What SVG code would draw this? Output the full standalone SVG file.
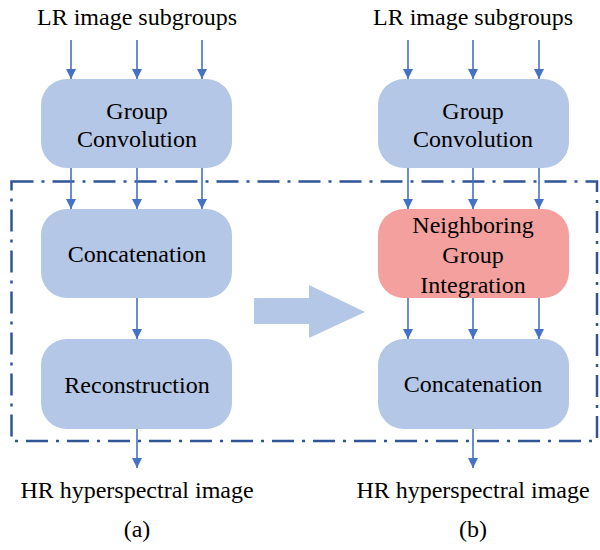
<svg xmlns="http://www.w3.org/2000/svg" width="600" height="550" viewBox="0 0 600 550">
<style>
.box{fill:#B4C7E7}
.red{fill:#F4A09F}
text{font-family:'Liberation Serif','Times New Roman',serif;font-size:24px;fill:#000;text-anchor:middle}
.c{stroke:#4472C4;stroke-width:1.6;fill:none;marker-end:url(#ah)}
</style>
<defs>
<marker id="ah" viewBox="0 0 10 10" refX="10" refY="5" markerWidth="10" markerHeight="10" markerUnits="userSpaceOnUse" orient="auto">
<path d="M0,0 L10,5 L0,10 z" fill="#4472C4"/>
</marker>
</defs>
<rect x="0" y="0" width="600" height="550" fill="#fff"/>
<rect id="frame" x="11.5" y="181.5" width="585.5" height="259.5" fill="none" stroke="#2F5597" stroke-width="2.5" stroke-dasharray="22 8 3 8"/>
<g id="connectors">
<line class="c" x1="71" y1="40" x2="71" y2="79"/>
<line class="c" x1="137" y1="40" x2="137" y2="79"/>
<line class="c" x1="202" y1="40" x2="202" y2="79"/>
<line class="c" x1="71" y1="168" x2="71" y2="209"/>
<line class="c" x1="137" y1="168" x2="137" y2="209"/>
<line class="c" x1="202" y1="168" x2="202" y2="209"/>
<line class="c" x1="137" y1="298" x2="137" y2="339"/>
<line class="c" x1="137" y1="429" x2="137" y2="468"/>
<line class="c" x1="408" y1="40" x2="408" y2="79"/>
<line class="c" x1="473" y1="40" x2="473" y2="79"/>
<line class="c" x1="539" y1="40" x2="539" y2="79"/>
<line class="c" x1="408" y1="168" x2="408" y2="209"/>
<line class="c" x1="473" y1="168" x2="473" y2="209"/>
<line class="c" x1="539" y1="168" x2="539" y2="209"/>
<line class="c" x1="408" y1="298" x2="408" y2="339"/>
<line class="c" x1="473" y1="298" x2="473" y2="339"/>
<line class="c" x1="539" y1="298" x2="539" y2="339"/>
<line class="c" x1="473" y1="429" x2="473" y2="468"/>
</g>
<g id="bigarrow">
<path d="M254,298 L309,298 L309,285 L365,312 L309,338 L309,324 L254,324 z" fill="#B4C7E7"/>
</g>
<g id="labels">
<text x="137" y="25">LR image subgroups</text>
<text x="473" y="25">LR image subgroups</text>
<text x="137" y="498">HR hyperspectral image</text>
<text x="473" y="498">HR hyperspectral image</text>
<text x="137" y="537">(a)</text>
<text x="473" y="537">(b)</text>
</g>
<g id="a_groupconv">
<rect class="box" x="41" y="79" width="191" height="89" rx="26"/>
<text x="137" y="119">Group</text>
<text x="137" y="147">Convolution</text>
</g>
<g id="a_concat">
<rect class="box" x="41" y="209" width="191" height="89" rx="26"/>
<text x="137" y="262">Concatenation</text>
</g>
<g id="a_recon">
<rect class="box" x="41" y="339" width="191" height="90" rx="26"/>
<text x="137" y="393">Reconstruction</text>
</g>
<g id="b_groupconv">
<rect class="box" x="378" y="79" width="191" height="89" rx="26"/>
<text x="473" y="119">Group</text>
<text x="473" y="147">Convolution</text>
</g>
<g id="b_ngi">
<rect class="red" x="378" y="209" width="191" height="89" rx="26"/>
<text x="473" y="233">Neighboring</text>
<text x="473" y="263">Group</text>
<text x="473" y="293">Integration</text>
</g>
<g id="b_concat">
<rect class="box" x="378" y="339" width="191" height="90" rx="26"/>
<text x="473" y="392">Concatenation</text>
</g>
</svg>
